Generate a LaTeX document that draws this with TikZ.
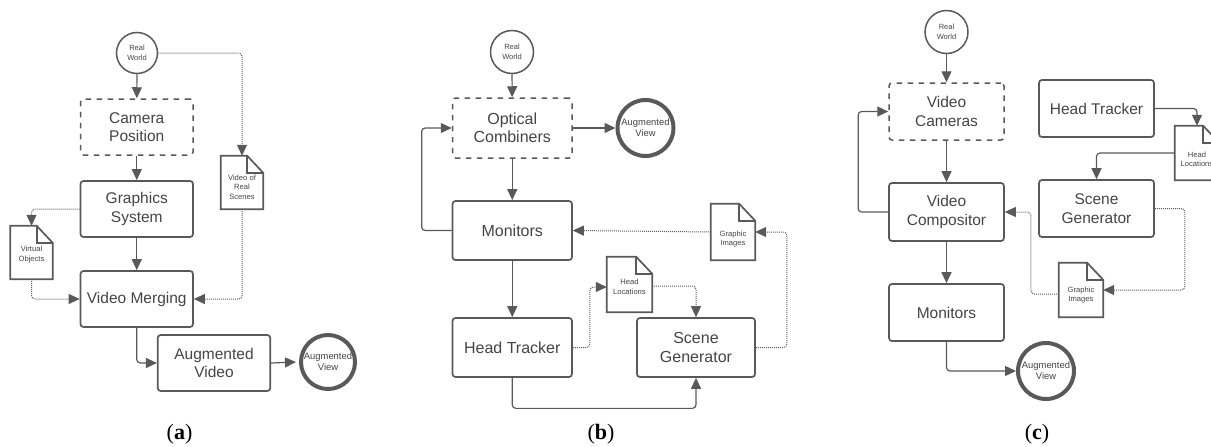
\documentclass[tikz,border=0pt]{standalone}
\usepackage{fontspec}
\setmainfont{Liberation Sans}
\newfontfamily\capfont{Liberation Serif}
\usetikzlibrary{arrows.meta,calc}
\definecolor{ln}{HTML}{595959}
\definecolor{tx}{HTML}{444444}
\definecolor{dt}{HTML}{5F5F5F}
\tikzset{
  x=1pt,y=-1pt,
  boxn/.style={draw=ln,line width=1.7pt,rounded corners=3pt,align=center,text=tx,inner sep=0pt,
    font=\fontsize{15.5}{18.5}\selectfont},
  dashbox/.style={boxn,line width=1.5pt,dash pattern=on 5.5pt off 5.5pt},
  rw/.style={circle,draw=ln,line width=1.5pt,minimum size=41pt,inner sep=0pt,align=center,text=tx,
    font=\fontsize{7.5}{9.5}\selectfont},
  viewn/.style={circle,draw=ln,line width=4pt,minimum size=54pt,inner sep=0pt,align=center,text=tx,
    font=\fontsize{9.4}{11}\selectfont},
  doctext/.style={align=center,text=tx,inner sep=0pt,font=\fontsize{7.6}{9.5}\selectfont},
  conn/.style={draw=ln,line width=1.2pt,rounded corners=3.5pt,-{Triangle[length=11pt,width=10pt]}},
  dotn/.style={draw=dt,line width=1pt,rounded corners=3.5pt,dash pattern=on 1pt off 1pt,
    -{Triangle[length=11pt,width=10pt,color=ln]}},
  nohead/.style={draw=none,inner sep=0pt},
  capt/.style={text=black,inner sep=0pt,font=\capfont\fontsize{22}{24}\selectfont}
}
% name, cx, cy, w, h, text, text offset
\newcommand{\docn}[7]{%
  \node[nohead,minimum width=#4pt,minimum height=#5pt] (#1) at (#2,#3) {};
  \draw[ln,line width=1.7pt,line join=miter] (#1.north west) -- ($(#1.north east)+(-16,0)$) -- ($(#1.north east)+(0,17)$) -- (#1.south east) -- (#1.south west) -- cycle;
  \draw[ln,line width=1.7pt,line join=miter] ($(#1.north east)+(-16,0)$) -- ($(#1.north east)+(-16,17)$) -- ($(#1.north east)+(0,17)$);
  \node[doctext] (#1t) at (#2,#3+#7) {#6};
}
\begin{document}
\begin{tikzpicture}
\useasboundingbox (0,0) rectangle (1211,447);
% ---------- panel a
\node[rw] (arw) at (137,53) {Real\\World};
\node[dashbox,minimum width=112.5pt,minimum height=56pt] (acam) at (136.75,127) {Camera\\Position};
\node[boxn,minimum width=112.5pt,minimum height=56pt] (agfx) at (136.75,209) {Graphics\\System};
\node[boxn,minimum width=112.5pt,minimum height=56pt] (amrg) at (136.75,299) {Video Merging};
\node[boxn,minimum width=112.5pt,minimum height=56pt] (aaug) at (214,363) {Augmented\\Video};
\node[viewn] (aview) at (328,362) {Augmented\\View};
\docn{avr}{242}{182.5}{42}{53}{Video of\\Real\\Scenes}{4.5}
\docn{avo}{31.5}{252.5}{42}{53}{Virtual\\Objects}{2}
\draw[conn] (arw) -- (acam);
\draw[conn] (acam) -- (agfx);
\draw[conn] (agfx) -- (amrg);
\draw[conn] (amrg.south) |- (aaug.west);
\draw[conn] (aaug.east) -- ($(aview.west)+(-3,0)$);
\draw[dotn] (arw.east) -| (avr.north);
\draw[dotn] (avr.south) |- (amrg.east);
\draw[dotn] (agfx.west) -| (avo.north);
\draw[dotn] (avo.south) |- (amrg.west);
\node[capt] (acap) at (179.5,434.5) {(\textbf{a})};
% ---------- panel b
\node[rw,minimum size=43pt] (brw) at (512,52) {Real\\World};
\node[dashbox,minimum width=119.5pt,minimum height=60pt] (boc) at (512.25,128) {\fontsize{16}{19.5}\selectfont Optical\\\fontsize{16}{19.5}\selectfont Combiners};
\node[boxn,minimum width=119.5pt,minimum height=59pt,font=\fontsize{16}{19.5}\selectfont] (bmon) at (512.25,230.5) {Monitors};
\node[boxn,minimum width=119.5pt,minimum height=59pt,font=\fontsize{16}{19.5}\selectfont] (bht) at (512.25,347.5) {Head Tracker};
\node[boxn,minimum width=118pt,minimum height=59pt,font=\fontsize{16}{19.5}\selectfont] (bsg) at (696,347.5) {Scene\\Generator};
\node[viewn,minimum size=56pt] (bview) at (645.5,128) {Augmented\\View};
\docn{bgi}{733}{232}{44}{56}{Graphic\\Images}{7}
\docn{bhl}{629.5}{284.5}{45}{55}{Head\\Locations}{2.5}
\draw[conn] (brw) -- (boc);
\draw[conn] (boc.east) -- (bview.west);
\draw[conn] (boc) -- (bmon);
\draw[conn] (bmon) -- (bht);
\draw[conn] (bmon.west) -- ++(-30,0) |- (boc.west);
\draw[conn] (bht.south) -- ++(0,30.5) -| (bsg.south);
\draw[dotn] (bht.east) -- ++(17,0) |- ([yshift=-2.5pt]bhl.west);
\draw[dotn] ([yshift=-1.5pt]bhl.east) -| (bsg.north);
\draw[dotn] (bsg.east) -- ++(31,0) |- (bgi.east);
\draw[dotn] (bgi.west) -- (bmon.east);
\node[capt] (bcap) at (601,434.5) {(\textbf{b})};
% ---------- panel c
\node[rw,minimum size=43pt] (crw) at (946.5,32) {Real\\World};
\node[dashbox,minimum width=115pt,minimum height=57pt] (cvc) at (946.5,111.5) {Video\\Cameras};
\node[boxn,minimum width=115pt,minimum height=58pt] (ccp) at (946.5,212) {Video\\Compositor};
\node[boxn,minimum width=115pt,minimum height=57pt] (cmon) at (946.5,312.5) {Monitors};
\node[boxn,minimum width=115pt,minimum height=57pt] (cht) at (1096.5,108.5) {Head Tracker};
\node[boxn,minimum width=115pt,minimum height=57pt] (csg) at (1096.5,208.5) {Scene\\Generator};
\node[viewn,minimum size=56pt] (cview) at (1046,371) {Augmented\\View};
\docn{chl}{1197}{153}{44}{54}{Head\\Locations}{6.5}
\docn{cgi}{1081}{290}{44}{54}{Graphic\\Images}{5}
\draw[conn] (crw) -- (cvc);
\draw[conn] (cvc) -- (ccp);
\draw[conn] (ccp) -- (cmon);
\draw[conn] (ccp.west) -- ++(-30,0) |- (cvc.west);
\draw[conn] (cmon.south) |- (cview.west);
\draw[conn] (cht.east) -| (chl.north);
\draw[conn] (chl.west) -| (csg.north);
\draw[dotn] (csg.east) -- ++(30,0) |- (cgi.east);
\draw[dotn] ([yshift=-4pt]cgi.west) -- ++(-28,0) |- (ccp.east);
\node[capt] (ccap) at (1037,434.5) {(\textbf{c})};
\end{tikzpicture}
\end{document}
